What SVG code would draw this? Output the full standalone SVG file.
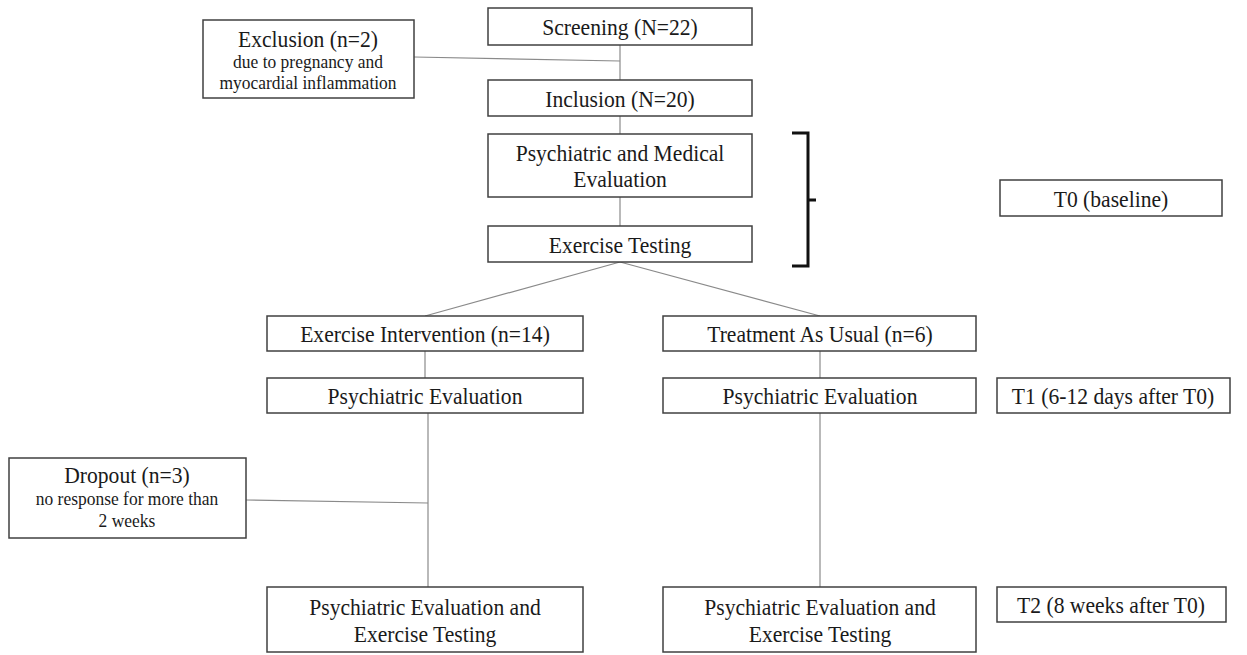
<svg xmlns="http://www.w3.org/2000/svg" width="1247" height="655" viewBox="0 0 1247 655">
<style>
.box{fill:#fff;stroke:#404040;stroke-width:1.5}
.t{font-family:"Liberation Serif","Times New Roman",serif;font-size:24px;fill:#1a1a1a;text-anchor:middle}
.s{font-family:"Liberation Serif","Times New Roman",serif;font-size:19px;fill:#1a1a1a;text-anchor:middle}
.c{stroke:#8a8a8a;stroke-width:1.2;fill:none}
</style>
<rect width="1247" height="655" fill="#fff"/>
<g id="connectors">
<line class="c" x1="620" y1="45" x2="620" y2="80"/>
<line class="c" x1="414" y1="57" x2="620" y2="61"/>
<line class="c" x1="620" y1="116" x2="620" y2="134"/>
<line class="c" x1="620" y1="197" x2="620" y2="226"/>
<line class="c" x1="620" y1="262" x2="425" y2="316"/>
<line class="c" x1="620" y1="262" x2="820" y2="316"/>
<line class="c" x1="425" y1="351" x2="425" y2="378"/>
<line class="c" x1="820" y1="351" x2="820" y2="378"/>
<line class="c" x1="428" y1="413" x2="428" y2="587"/>
<line class="c" x1="820" y1="413" x2="820" y2="587"/>
<line class="c" x1="246" y1="500" x2="428" y2="503"/>
</g>
<g id="screening"><rect class="box" x="488" y="8" width="264" height="37"/><text class="t" transform="translate(620,35) scale(0.9,1)">Screening (N=22)</text></g>
<g id="exclusion"><rect class="box" x="203" y="20" width="211" height="78"/><text class="t" transform="translate(308,47) scale(0.9,1)">Exclusion (n=2)</text><text class="s" transform="translate(308,68) scale(0.92,1)">due to pregnancy and</text><text class="s" transform="translate(308,89) scale(0.92,1)">myocardial inflammation</text></g>
<g id="inclusion"><rect class="box" x="488" y="80" width="264" height="36"/><text class="t" transform="translate(620,107) scale(0.9,1)">Inclusion (N=20)</text></g>
<g id="psychmed"><rect class="box" x="488" y="134" width="264" height="63"/><text class="t" transform="translate(620,161) scale(0.9,1)">Psychiatric and Medical</text><text class="t" transform="translate(620,187) scale(0.9,1)">Evaluation</text></g>
<g id="extest"><rect class="box" x="488" y="226" width="264" height="36"/><text class="t" transform="translate(620,253) scale(0.9,1)">Exercise Testing</text></g>
<g id="bracket"><path d="M792,133 H808 V266 H792 M808,200 H816" fill="none" stroke="#111" stroke-width="3"/></g>
<g id="t0"><rect class="box" x="1000" y="180" width="222" height="36"/><text class="t" transform="translate(1111,207) scale(0.9,1)">T0 (baseline)</text></g>
<g id="exint"><rect class="box" x="267" y="316" width="316" height="35"/><text class="t" transform="translate(425,342) scale(0.9,1)">Exercise Intervention (n=14)</text></g>
<g id="tau"><rect class="box" x="663" y="316" width="313" height="35"/><text class="t" transform="translate(820,342) scale(0.9,1)">Treatment As Usual (n=6)</text></g>
<g id="psyevalL"><rect class="box" x="267" y="378" width="316" height="35"/><text class="t" transform="translate(425,404) scale(0.9,1)">Psychiatric Evaluation</text></g>
<g id="psyevalR"><rect class="box" x="663" y="378" width="313" height="35"/><text class="t" transform="translate(820,404) scale(0.9,1)">Psychiatric Evaluation</text></g>
<g id="t1"><rect class="box" x="997" y="378" width="233" height="35"/><text class="t" transform="translate(1113,404) scale(0.9,1)">T1 (6-12 days after T0)</text></g>
<g id="dropout"><rect class="box" x="9" y="458" width="237" height="80"/><text class="t" transform="translate(127,483) scale(0.9,1)">Dropout (n=3)</text><text class="s" transform="translate(127,505) scale(0.92,1)">no response for more than</text><text class="s" transform="translate(127,527) scale(0.92,1)">2 weeks</text></g>
<g id="botL"><rect class="box" x="267" y="587" width="316" height="65"/><text class="t" transform="translate(425,615) scale(0.9,1)">Psychiatric Evaluation and</text><text class="t" transform="translate(425,642) scale(0.9,1)">Exercise Testing</text></g>
<g id="botR"><rect class="box" x="663" y="587" width="313" height="65"/><text class="t" transform="translate(820,615) scale(0.9,1)">Psychiatric Evaluation and</text><text class="t" transform="translate(820,642) scale(0.9,1)">Exercise Testing</text></g>
<g id="t2"><rect class="box" x="997" y="587" width="229" height="35"/><text class="t" transform="translate(1111,613) scale(0.9,1)">T2 (8 weeks after T0)</text></g>
</svg>
